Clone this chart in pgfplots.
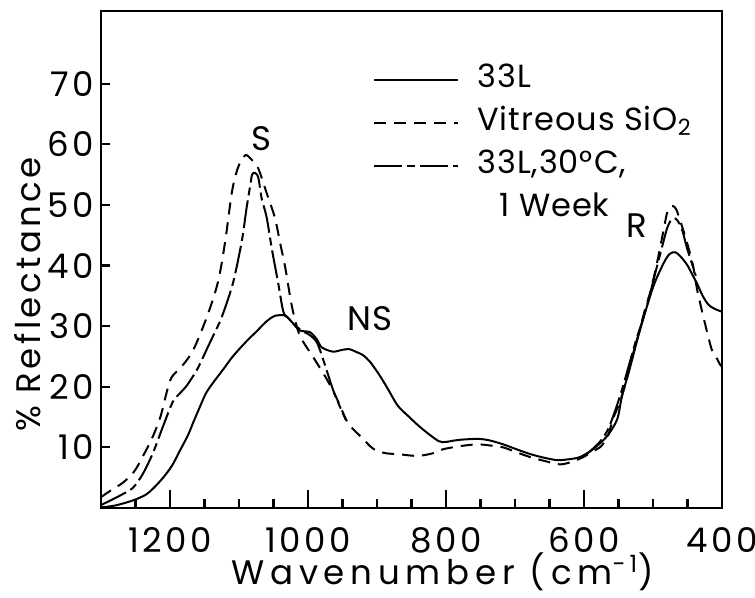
\documentclass[border=0pt]{standalone}
\usepackage{fontspec}
\setmainfont{Poppins}[LetterSpace=3]
\newfontfamily\tickfont{Poppins}[LetterSpace=10]
\newfontfamily\xlabfont{Poppins}[LetterSpace=17]
\newfontfamily\ylabfont{Poppins}[LetterSpace=10]
\usepackage{pgfplots}
\pgfplotsset{compat=1.18}

% 33L
\pgfplotstableread{
x y
1300 0.1
1280 0.4
1255 1.2
1235 2.2
1222 3.5
1210 5.0
1197 7.0
1185 9.6
1174 12.0
1166 14.2
1157 16.6
1148 18.9
1138 20.6
1122 23.0
1109 25.0
1090 27.4
1074 29.2
1060 30.8
1048 31.7
1035 31.8
1030 31.5
1022 30.5
1012 29.3
997 29.0
987 27.8
980 26.5
964 25.8
950 26.1
940 26.2
929 25.7
920 25.2
910 24.1
898 22.2
886 20.0
870 16.9
855 15.2
840 13.6
825 12.2
810 11.0
800 10.9
790 11.1
775 11.3
751 11.4
735 11.1
717 10.5
698 9.7
678 8.9
658 8.3
639 7.9
625 8.0
606 8.4
587 9.7
567 11.8
552 14.6
545 18.4
533 23.3
519 29.3
500 36.4
485 40.3
476 41.9
468 42.2
461 41.6
451 40.2
442 38.3
436 37.0
428 35.0
420 33.6
413 33.0
403 32.5
400 32.4
}\tlA

% vitreous SiO2
\pgfplotstableread{
x y
1300 1.8
1287 2.8
1268 4.2
1252 6.0
1239 8.6
1226 11.5
1214 15.0
1205 19.0
1198 21.5
1186 23.0
1175 24.5
1164 26.6
1145 32.0
1130 37.5
1120 44.0
1110 52.3
1101 56.3
1091 58.2
1082 57.5
1072 56.0
1060 52.0
1048 47.9
1040 43.5
1033 39.7
1023 33.1
1012 28.5
993 25.0
973 21.3
958 18.0
943 14.2
930 12.5
920 11.4
910 10.2
900 9.4
885 9.0
871 8.9
842 8.6
820 9.0
804 9.7
780 10.2
755 10.5
735 10.3
717 10.0
698 9.2
678 8.4
655 7.7
635 7.2
618 7.6
601 8.4
588 9.3
575 10.2
565 12.0
558 14.7
548 17.5
538 21.3
529 25.4
519 29.5
511 33.0
504 35.6
495 40.0
487 44.5
480 48.5
476 49.6
471 49.8
466 49.2
458 46.5
450 43.5
442 40.0
436 36.0
430 33.0
425 30.6
415 26.2
408 24.8
403 23.7
400 23.3
}\tlB

% 33L, 30 C, 1 week (two pieces)
\pgfplotstableread{
x y
1300 0.5
1287 1.2
1270 2.2
1254 3.3
1240 5.5
1225 9.0
1210 13.5
1196 17.5
1185 19.0
1175 20.3
1160 23.0
1145 26.6
1135 29.0
1125 31.5
1109 37.0
1096 44.0
1089 49.5
1084 53.0
1081 55.0
1077 55.3
1072 54.5
1067 51.0
1060 48.0
1052 42.5
1043 37.0
1036 32.5
1030 31.5
1012 29.5
997 28.5
987 27.3
978 24.5
964 19.6
954 16.8
945 14.5
}\tlC

\pgfplotstableread{
x y
605 8.3
595 9.0
585 10.0
575 11.2
565 13.0
555 16.0
545 19.5
535 23.5
525 27.5
515 31.0
505 35.0
495 39.5
487 43.0
480 46.0
475 47.3
470 47.8
465 47.5
458 46.0
451 43.0
444 40.5
438 38.3
}\tlD

\begin{document}
\begin{tikzpicture}
\begin{axis}[
    scale only axis,
    width=310.5pt, height=248.5pt,
    xmin=400, xmax=1300, x dir=reverse,
    ymin=0, ymax=82,
    xtick={400,600,...,1200},
    minor xtick={450,500,...,1250},
    ytick={10,20,...,70},
    tick pos=left, tick align=inside,
    major tick length=9pt, minor tick length=4.5pt,
    ytick style={/pgfplots/major tick length=4.5pt},
    tick style={black, line width=1.1pt},
    axis line style={line width=1.2pt},
    /pgf/number format/1000 sep={},
    /pgf/number format/assume math mode=true,
    tick label style={font=\tickfont\fontsize{17}{17}\selectfont},
    xticklabel style={yshift=-6pt, inner xsep=0pt},
    xlabel={Wavenumber (cm\textsuperscript{-1})},
    ylabel={\% Reflectance},
    xlabel style={font=\xlabfont\fontsize{17}{17}\selectfont, inner sep=0pt, at={(axis description cs:0.55,-0.129)}, anchor=center},
    ylabel style={font=\ylabfont\fontsize{17}{17}\selectfont, at={(axis description cs:-0.1176,0.43)}, anchor=center},
    legend style={at={(axis description cs:0.438,0.903)}, anchor=north west,
        draw=none, fill=none, inner sep=0pt, row sep=1.5pt, column sep=7pt,
        font=\fontsize{16}{16}\selectfont,
        nodes={text height=12pt, text depth=4pt, inner ysep=2pt}},
    legend cell align=left,
    legend image code/.code={\draw[#1] (0pt,0pt) -- (42pt,0pt);},
    every axis plot/.append style={black, line width=1pt, no markers},
]
\addplot[smooth] table {\tlA};
\addlegendentry{33L}
\addplot[smooth, dash pattern=on 6pt off 4pt] table {\tlB};
\addlegendentry{Vitreous SiO\textsubscript{2}}
\addplot[smooth, dash pattern=on 14pt off 2.5pt on 4pt off 2.5pt] table {\tlC};
\addlegendentry{33L,30°C,}
\addplot[smooth, dash pattern=on 14pt off 2.5pt on 4pt off 2.5pt, forget plot] table {\tlD};
\addlegendimage{empty legend}
\addlegendentry{\hspace{11pt}1 Week}

\node[font=\fontsize{17}{17}\selectfont] at (axis cs:1068,61) {S};
\node[font=\fontsize{17}{17}\selectfont] at (axis cs:910,31.3) {NS};
\node[font=\fontsize{17}{17}\selectfont] at (axis cs:523,46.6) {R};

\coordinate (sw) at (axis description cs:0,0);
\coordinate (ne) at (axis description cs:1,1);
\end{axis}
\pgfresetboundingbox
\path ([shift={(-50.5pt,-44.5pt)}]sw) rectangle ([shift={(16.5pt,5.5pt)}]ne);
\end{tikzpicture}
\end{document}
